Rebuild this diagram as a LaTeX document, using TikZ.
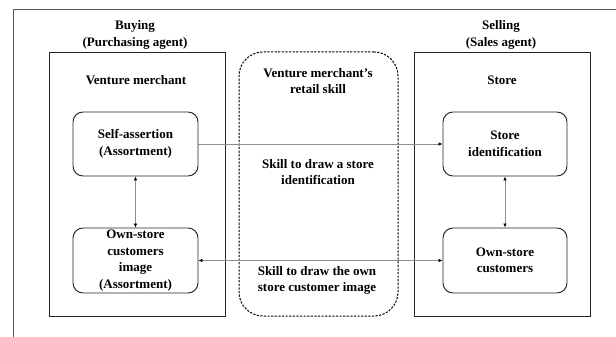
\documentclass[tikz,border=0pt]{standalone}
\usepackage{fontspec}
\setmainfont{Liberation Serif}
\usetikzlibrary{arrows.meta}
\tikzset{
  txt/.style={font=\fontsize{13}{16.5}\selectfont\bfseries, align=center, inner sep=0pt},
  container/.style={draw=black!85, line width=0.9pt, inner sep=0pt},
  skillbox/.style={draw=black, line width=1pt, dash pattern=on 2.2pt off 1.4pt, rounded corners=24pt, inner sep=0pt},
  itembox/.style={draw=black!85, line width=0.95pt, rounded corners=10pt, inner sep=0pt, font=\fontsize{13}{16.5}\selectfont\bfseries, align=center},
  conn/.style={draw=black!45, line width=0.7pt},
  tip/.style={-{Latex[length=4pt,width=3.6pt,black]}},
  tips/.style={{Latex[length=4pt,width=3.6pt,black]}-{Latex[length=4pt,width=3.6pt,black]}}
}
\begin{document}
\begin{tikzpicture}[x=1pt,y=-1pt]
\useasboundingbox (0,0) rectangle (616,337);
% outer frame (top and left edges visible)
\coordinate (ftr) at (616,10);
\coordinate (ftl) at (13,10);
\coordinate (fbl) at (13,337);
\draw[black!65, line width=1pt] (ftr) -- (ftl) -- (fbl);

% containers
\node[container, minimum width=176pt, minimum height=264pt] (left) at (137,184) {};
\node[skillbox, minimum width=159pt, minimum height=264pt] (skill) at (318.5,184) {};
\node[container, minimum width=176pt, minimum height=264pt] (right) at (502,184) {};

% headings
\node[txt] (buy) at (135,35) {Buying\\(Purchasing agent)};
\node[txt] (sell) at (501,35) {Selling\\(Sales agent)};
\node[txt] (vm) at (136,80) {Venture merchant};
\node[txt] (store) at (502,80) {Store};
\node[txt] (vmr) at (318,81) {Venture merchant's\\retail skill};
\node[txt] (sk1) at (318,172) {Skill to draw a store\\identification};
\node[txt] (sk2) at (317,280.5) {Skill to draw the own\\store customer image};

% item boxes
\node[itembox, minimum width=125pt, minimum height=64pt] (sa) at (135.5,144) {Self-assertion\\(Assortment)};
\node[itembox, minimum width=125pt, minimum height=65pt] (oci) at (135.5,260.5) {Own-store\\customers\\image\\(Assortment)};
\node[itembox, minimum width=124pt, minimum height=64pt] (si) at (505,144) {Store\\identification};
\node[itembox, minimum width=124pt, minimum height=65pt] (oc) at (505,260.5) {Own-store\\customers};

% connectors
\draw[conn, tip] (sa.east) -- (si.west);
\draw[conn, tips] (oci.east) -- (oc.west);
\draw[conn, tips] (sa.south) -- (oci.north);
\draw[conn, tips] (si.south) -- (oc.north);
\end{tikzpicture}
\end{document}
